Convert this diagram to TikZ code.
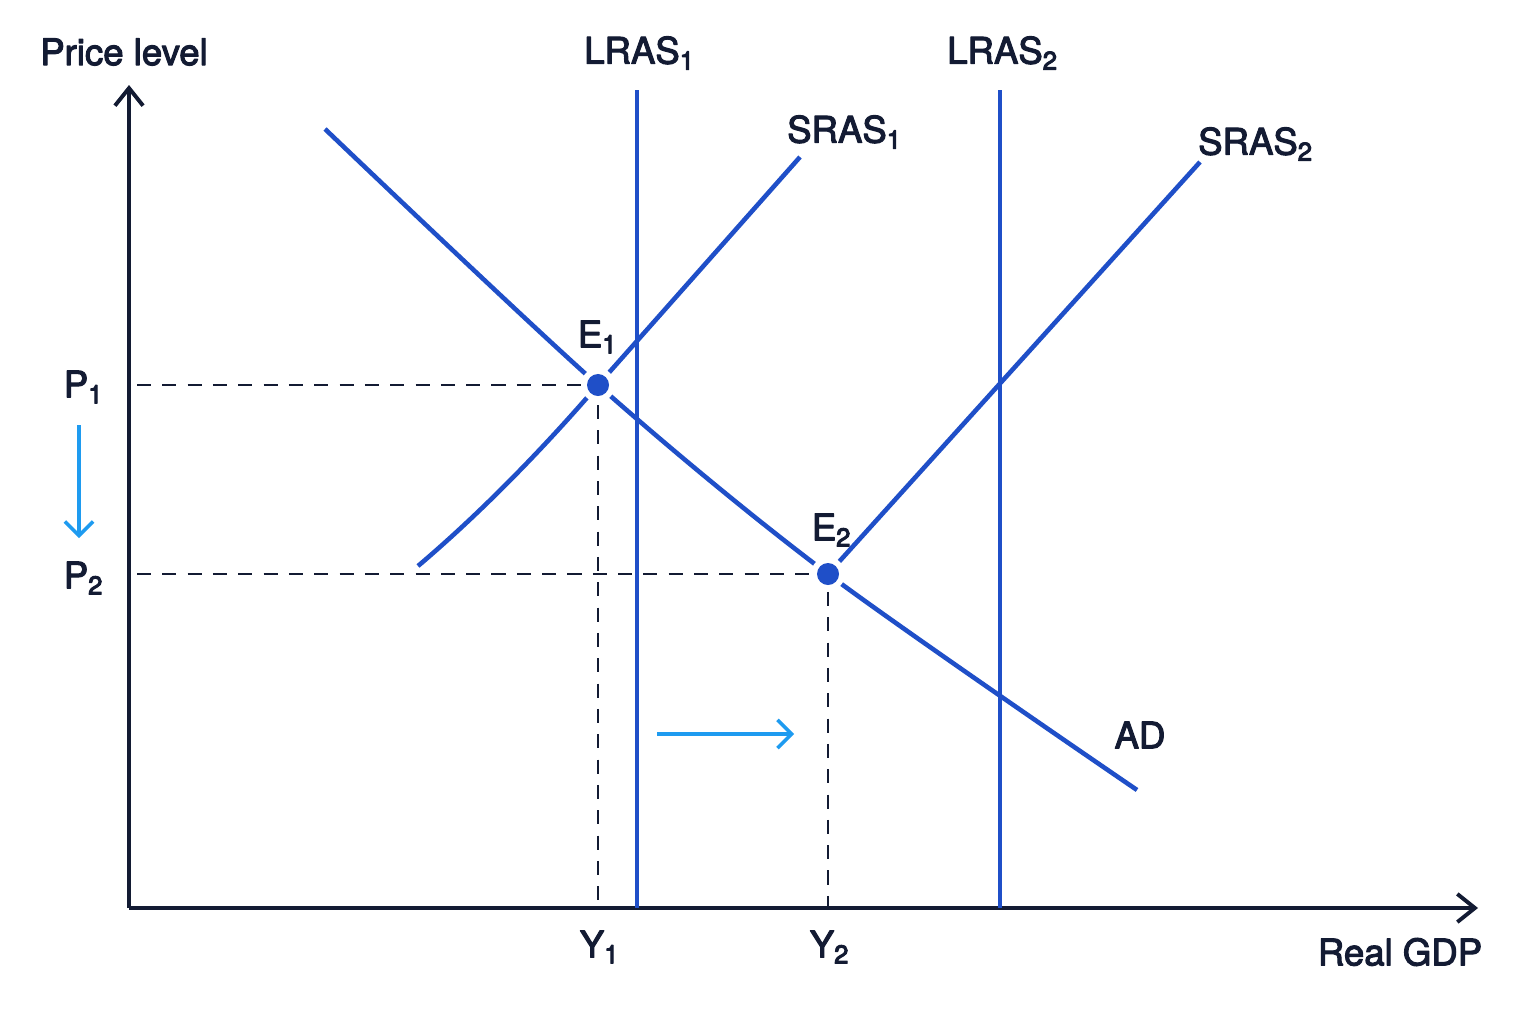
\documentclass[tikz,border=0pt]{standalone}
\usepackage{fontspec}
\setmainfont{TeX Gyre Heros}
\usepackage{tikz}
\usetikzlibrary{arrows.meta}
\definecolor{ink}{HTML}{131B33}
\definecolor{curveblue}{HTML}{1F4FC8}
\definecolor{skyblue}{HTML}{1E9BF0}
\newcommand{\heavy}[1]{\special{pdf:literal q 2 Tr 0.3 w 1 j}#1\special{pdf:literal Q}}

\begin{document}
\begin{tikzpicture}[x=0.01cm,y=-0.01cm,
    every node/.style={text=ink, font=\fontsize{10.4}{12}\selectfont},
    axis/.style={ink, line width=1.1pt, -{Straight Barb[length=5pt,width=8pt,line width=1.1pt]}},
    curveline/.style={curveblue, line width=1.3pt},
    guide/.style={ink, line width=0.7pt, dash pattern=on 4pt off 3.2pt},
    shiftarrow/.style={skyblue, line width=1pt, -{Straight Barb[length=4pt,width=8pt,line width=1pt]}},
    eqdot/.style={circle, fill=curveblue, inner sep=0pt, minimum size=0.22cm}]
            \useasboundingbox (0,0) rectangle (1536,1024);
            \fill[white] (0,0) rectangle (1536,1024);

            \coordinate (O) at (129,908);
            \coordinate (E1) at (598,385);
            \coordinate (E2) at (828,574);

            % axes
            \draw[axis] (O) -- (129,85);
            \draw[axis] (O) -- (1478,908);
            \node (price) at (124,52) {\heavy{Price level}};
            \node (gdp) at (1400,952) {\heavy{Real GDP}};

            % dashed guides
            \draw[guide] (137,385) -- (E1) -- (E1 |- O);
            \draw[guide] (137,574) -- (E2) -- (E2 |- O);

            % long run supply
            \draw[curveline] (637,908) -- (637,90);
            \draw[curveline] (1000,908) -- (1000,90);
            \node (lras1) at (640,53) {\heavy{LRAS\textsubscript{1}}};
            \node (lras2) at (1003,53) {\heavy{LRAS\textsubscript{2}}};

            % short run supply
            \draw[curveline] (418,566) .. controls (490,505) and (555,435) .. (E1) -- (800,157);
            \draw[curveline] (E2) -- (1200,162);
            \node (sras1) at (845,132) {\heavy{SRAS\textsubscript{1}}};
            \node (sras2) at (1256,144) {\heavy{SRAS\textsubscript{2}}};

            % demand
            \draw[curveline] plot[smooth, tension=0.5] coordinates {(325,129) (598,385) (828,574) (1137,790)};
            \node (ad) at (1140,735) {\heavy{AD}};

            % equilibria
            \fill[white] (E1) circle (17);
            \fill[white] (E2) circle (17);
            \node[eqdot] (e1dot) at (E1) {};
            \node[eqdot] (e2dot) at (E2) {};
            \node (e1) at (598,337) {\heavy{E\textsubscript{1}}};
            \node (e2) at (832,530) {\heavy{E\textsubscript{2}}};

            \node (p1) at (84,387) {\heavy{P\textsubscript{1}}};
            \node (p2) at (84,578) {\heavy{P\textsubscript{2}}};
            \node (y1) at (600,947) {\heavy{Y\textsubscript{1}}};
            \node (y2) at (830,947) {\heavy{Y\textsubscript{2}}};

            % shifts
            \draw[shiftarrow] (79,425) -- (79,538);
            \draw[shiftarrow] (657,734) -- (794,734);
        \end{tikzpicture}
\end{document}
